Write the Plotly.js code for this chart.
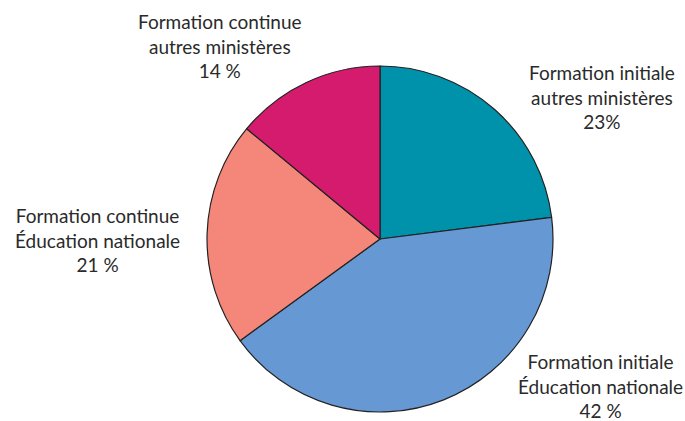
<!DOCTYPE html>
<html>
<head>
<meta charset="utf-8">
<script src="https://cdn.plot.ly/plotly-3.0.1.min.js"></script>
<style>html,body{margin:0;padding:0;background:#fff;}#chart{width:685px;height:421px;}</style>
</head>
<body>
<div id="chart"></div>
<script>
const categories = [
  "Formation initiale<br>autres ministères",
  "Formation initiale<br>Éducation nationale",
  "Formation continue<br>Éducation nationale",
  "Formation continue<br>autres ministères"
];
const values = [23, 42, 21, 14];
const valueLabels = ["23%", "42 %", "21 %", "14 %"];
const colors = ["#0192AB", "#6699D3", "#F4877A", "#D41B6E"];

// label anchor positions (paper coords)
const labelPos = [
  {x: 0.879, y: 0.770},
  {x: 0.876, y: 0.083},
  {x: 0.142, y: 0.430},
  {x: 0.321, y: 0.891}
];

const annotations = categories.map((c, i) => ({
  text: c + "<br>" + valueLabels[i],
  x: labelPos[i].x, y: labelPos[i].y,
  xref: "paper", yref: "paper",
  xanchor: "center", yanchor: "middle",
  showarrow: false, align: "center",
  font: {family: "Lato, 'Open Sans', sans-serif", size: 19, color: "#2a2a2a"}
}));

const data = [{
  type: "pie",
  values: values,
  labels: categories,
  marker: {colors: colors, line: {color: "#222", width: 1.2}},
  sort: false,
  direction: "clockwise",
  rotation: 0,
  textinfo: "none",
  hoverinfo: "label+value",
  domain: {x: [0.3022, 0.8073], y: [0.0214, 0.8432]},
  showlegend: false
}];

const layout = {
  width: 685, height: 421,
  margin: {l: 0, r: 0, t: 0, b: 0},
  paper_bgcolor: "#fff",
  showlegend: false,
  annotations: annotations
};

Plotly.newPlot("chart", data, layout, {displayModeBar: false, staticPlot: true});
</script>
</body>
</html>
